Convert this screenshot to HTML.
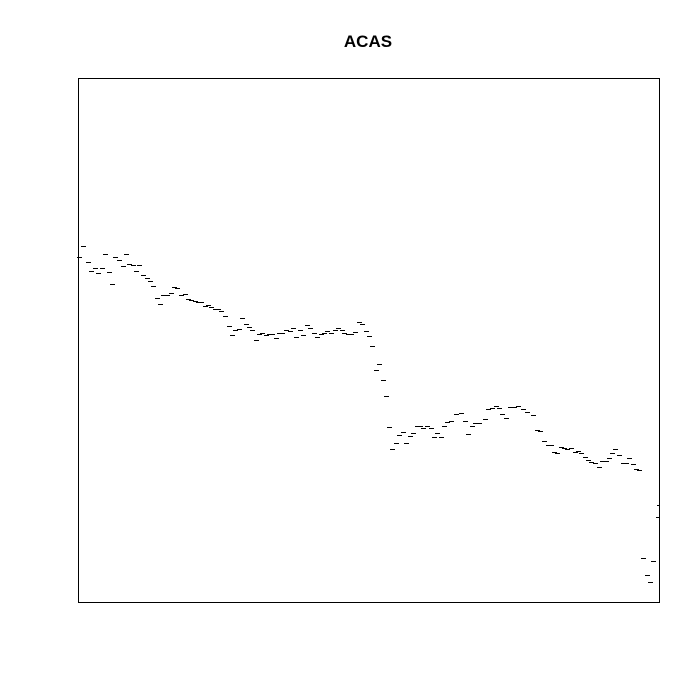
<!DOCTYPE html>
<html><head><meta charset="utf-8"><style>
body{margin:0;background:#fff}
svg{display:block}
</style></head><body>
<svg id="chart" width="700" height="700" xmlns="http://www.w3.org/2000/svg">
<rect x="0" y="0" width="700" height="700" fill="#fff"/>
<text x="368" y="47" text-anchor="middle" font-family="Liberation Sans, sans-serif" font-weight="bold" font-size="17">ACAS</text>
<g id="marks"></g>
<rect x="78.5" y="78.5" width="581" height="524" fill="none" stroke="#000" stroke-width="1"/>
</svg>
<script>
const xs = [1,5,10,13,17,20,24,27,31,34,37,41,45,48,51,55,58,61,65,69,72,75,79,82,85,89,93,96,99,103,107,110,113,117,120,123,127,130,133,137,140,143,
147,151,154,157,161,164,168,171,174,178,181,184,188,191,194,198,201,204,208,212,215,218,222,225,229,232,236,239,243,246,249,253,257,260,264,266,270,273,277,281,284,288,291,294,298,301,305,308,
311,314,318,321,325,328,332,335,339,342,345,349,353,356,359,363,366,369,373,378,383,387,390,394,397,401,407,410,414,418,421,424,428,432,436,440,445,449,455,459,
462,466,470,473,476,479,483,486,489,493,497,500,503,507,510,513,517,521,524,528,531,534,537,541,545,548,551,555,558,561,565,569,572,575,580,581];
const ys = [345,356,340,331,334,329,334,348,330,318,345,342,336,348,338,337,331,337,327,324,321,316,304,298,307,307,309,315,314,307,308,303,302,301,300,300,296,297,295,293,293,291,
286,276,267,272,273,284,278,275,272,262,268,269,267,268,268,264,269,269,272,271,274,265,272,267,277,274,269,265,268,269,271,269,272,274,272,269,268,268,270,280,278,271,266,256,232,238,222,206,
175,153,159,167,170,159,166,169,176,176,174,176,174,165,169,165,176,180,181,188,189,181,168,176,179,179,183,193,194,196,194,188,184,195,195,196,193,190,187,172,
171,161,157,157,150,149,155,154,153,154,150,151,149,145,142,140,139,135,141,141,144,149,153,147,139,139,144,138,133,132,44,27,20,41,85,97];
const X0=78, Y0=602;
function sx(v){return X0+v;}
function sy(v){return Y0-v;}
const g=document.getElementById('marks');
for(let i=0;i<xs.length;i++){
  const l=document.createElementNS('http://www.w3.org/2000/svg','line');
  const x=sx(xs[i]), y=Math.round(sy(ys[i]))+0.5;
  l.setAttribute('x1',x-2);l.setAttribute('x2',Math.min(x+3,659));
  l.setAttribute('y1',y);l.setAttribute('y2',y);
  l.setAttribute('stroke','#000');l.setAttribute('stroke-width','1');
  
  
  g.appendChild(l);
}
</script>
</body></html>
